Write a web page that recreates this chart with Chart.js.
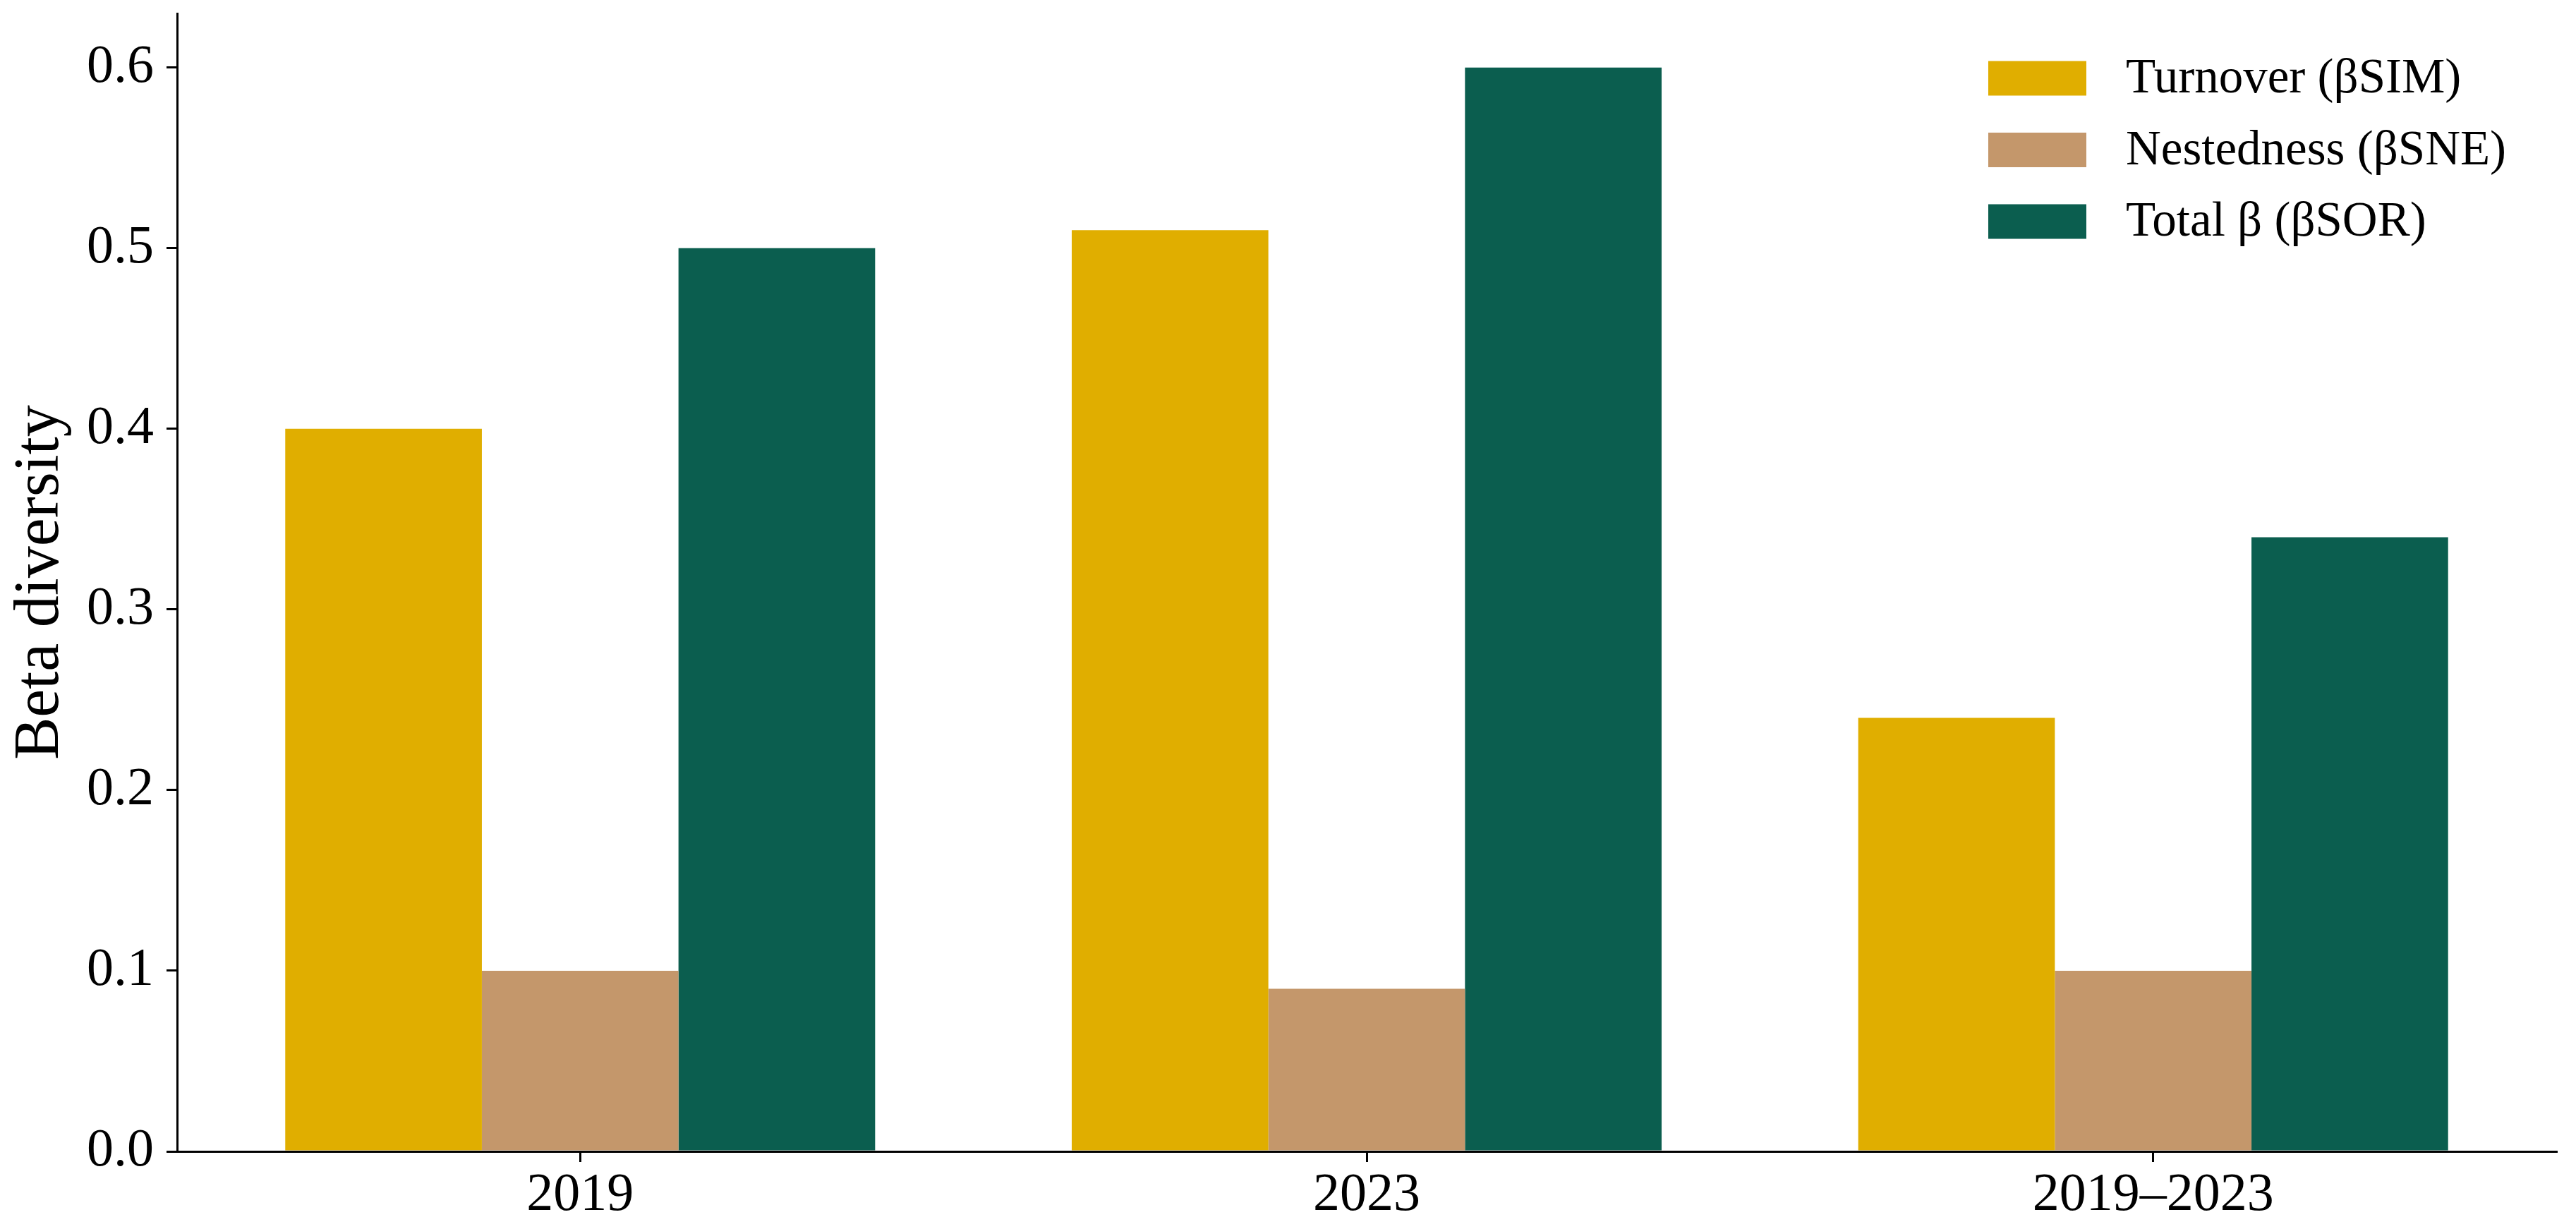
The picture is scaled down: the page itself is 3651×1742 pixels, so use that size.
<!DOCTYPE html>
<html>
<head>
<meta charset="utf-8">
<script src="https://cdn.jsdelivr.net/npm/chart.js@4.4.0/dist/chart.umd.min.js"></script>
<style>
  html, body { margin: 0; padding: 0; background: #fff; }
</style>
</head>
<body>
<canvas id="myChart" width="3651" height="1742"></canvas>
<script>
// data
const categories = ['2019', '2023', '2019\u20132023'];
const turnover = [0.40, 0.51, 0.24];
const nestedness = [0.10, 0.09, 0.10];
const totalBeta = [0.50, 0.60, 0.34];
const yTicks = [0.0, 0.1, 0.2, 0.3, 0.4, 0.5, 0.6];

const FONT = "'Liberation Serif', 'Times New Roman', serif";

// category scale with a slightly wider end margin (like matplotlib's 5% margin)
class MarginCategory extends Chart.CategoryScale {
  buildTicks() {
    const ticks = super.buildTicks();
    this._startValue -= 0.0125;
    this._valueRange += 0.025;
    return ticks;
  }
}
MarginCategory.id = 'marginCategory';
MarginCategory.defaults = Chart.CategoryScale.defaults;
Chart.register(MarginCategory);

// legend drawn inside the plot, top right
const innerLegend = {
  id: 'innerLegend',
  afterDraw(chart) {
    const ctx = chart.ctx;
    ctx.save();
    ctx.font = '69px ' + FONT;
    ctx.textBaseline = 'middle';
    ctx.textAlign = 'left';
    chart.data.datasets.forEach((ds, i) => {
      const y = 111 + i * 101.5;
      ctx.fillStyle = ds.backgroundColor;
      ctx.fillRect(2818, y - 24.5, 139, 49);
      ctx.fillStyle = '#000';
      ctx.fillText(ds.label, 3013, y + 2);
    });
    ctx.restore();
  }
};

const data = {
  labels: categories,
  datasets: [
    { label: 'Turnover (\u03b2SIM)', data: turnover, backgroundColor: '#E0AE00' },
    { label: 'Nestedness (\u03b2SNE)', data: nestedness, backgroundColor: '#C4976B' },
    { label: 'Total \u03b2 (\u03b2SOR)', data: totalBeta, backgroundColor: '#0B5E4F' }
  ]
};

const config = {
  type: 'bar',
  data,
  options: {
    responsive: false,
    animation: false,
    devicePixelRatio: 1,
    layout: { padding: { top: 19, right: 28, left: 0, bottom: 0 } },
    datasets: {
      bar: { categoryPercentage: 0.75, barPercentage: 1.0, borderWidth: 0 }
    },
    plugins: {
      legend: { display: false },
      tooltip: { enabled: false }
    },
    scales: {
      x: {
        type: 'marginCategory',
        offset: true,
        grid: { offset: false, drawOnChartArea: false, drawTicks: true, tickLength: 15, color: '#000', lineWidth: 3 },
        border: { display: true, color: '#000', width: 3 },
        ticks: { color: '#000', font: { family: FONT, size: 76 }, padding: 2, maxRotation: 0 },
        afterFit(scale) { scale.height = 110; }
      },
      y: {
        min: 0,
        max: 0.63,
        grid: { drawOnChartArea: false, drawTicks: true, tickLength: 15, color: '#000', lineWidth: 3 },
        border: { display: true, color: '#000', width: 3 },
        afterBuildTicks(scale) { scale.ticks = yTicks.map(v => ({ value: v })); },
        ticks: {
          color: '#000',
          font: { family: FONT, size: 76 },
          padding: 18,
          callback: v => Number(v).toFixed(1)
        },
        title: {
          display: true,
          text: 'Beta diversity',
          color: '#000',
          font: { family: FONT, size: 90 },
          padding: { top: 4, bottom: 4 }
        },
        afterFit(scale) {
          scale.width = 251;
          scale.paddingTop = 0;
        }
      }
    }
  },
  plugins: [innerLegend]
};

const myChart = new Chart(document.getElementById('myChart'), config);
</script>
</body>
</html>
